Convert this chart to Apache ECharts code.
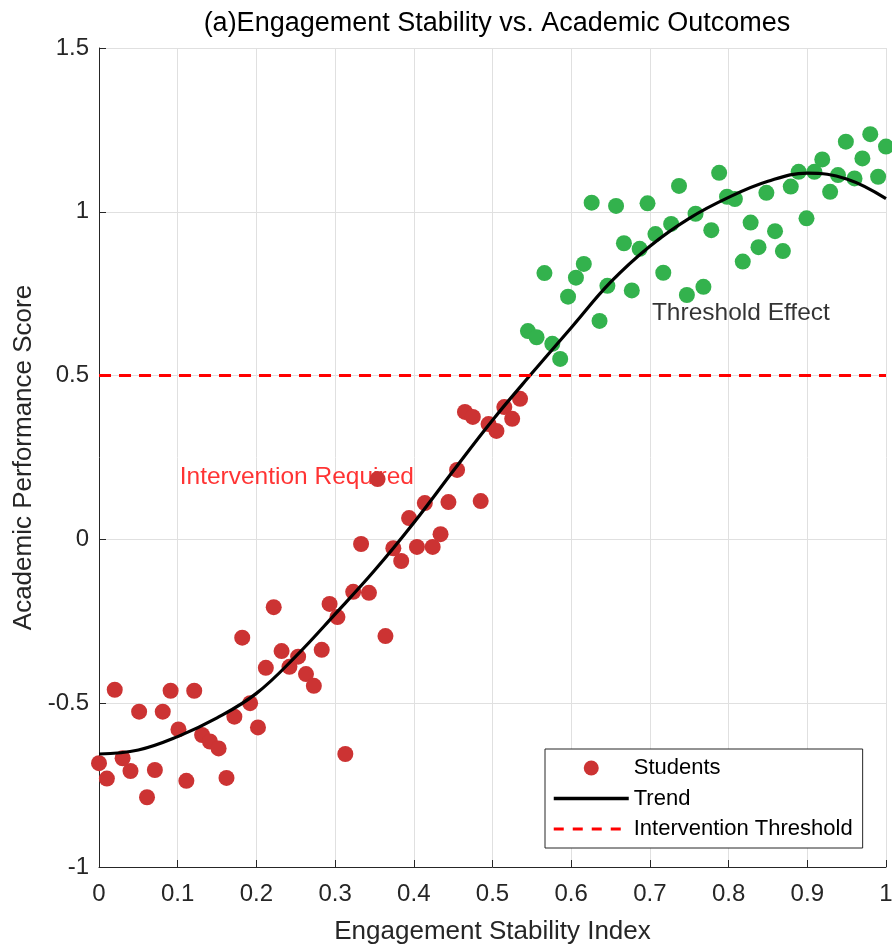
<!DOCTYPE html>
<html>
<head>
<meta charset="utf-8">
<script src="https://cdn.jsdelivr.net/npm/echarts@6/dist/echarts.min.js"></script>
<style>html,body{margin:0;padding:0;background:#fff}#chart{width:892px;height:944px}</style>
</head>
<body>
<div id="chart"></div>
<script>
// Engagement stability index (x) for each student
const studentX = [0.000,0.010,0.020,0.030,0.040,0.051,0.061,0.071,0.081,0.091,
0.101,0.111,0.121,0.131,0.141,0.152,0.162,0.172,0.182,0.192,
0.202,0.212,0.222,0.232,0.242,0.253,0.263,0.273,0.283,0.293,
0.303,0.313,0.323,0.333,0.343,0.354,0.364,0.374,0.384,0.394,
0.404,0.414,0.424,0.434,0.444,0.455,0.465,0.475,0.485,0.495,
0.505,0.515,0.525,0.535,0.545,0.556,0.566,0.576,0.586,0.596,
0.606,0.616,0.626,0.636,0.646,0.657,0.667,0.677,0.687,0.697,
0.707,0.717,0.727,0.737,0.747,0.758,0.768,0.778,0.788,0.798,
0.808,0.818,0.828,0.838,0.848,0.859,0.869,0.879,0.889,0.899,
0.909,0.919,0.929,0.939,0.949,0.960,0.970,0.980,0.990,1.000];
// Academic performance score for each student
const studentY = [-0.683,-0.730,-0.459,-0.668,-0.707,-0.526,-0.787,-0.704,-0.526,-0.462,
-0.580,-0.737,-0.462,-0.597,-0.617,-0.638,-0.728,-0.541,-0.300,-0.500,
-0.574,-0.392,-0.207,-0.341,-0.389,-0.358,-0.411,-0.447,-0.337,-0.197,
-0.237,-0.655,-0.160,-0.014,-0.163,0.184,-0.295,-0.027,-0.066,0.065,
-0.023,0.111,-0.023,0.016,0.114,0.212,0.389,0.374,0.117,0.352,
0.331,0.404,0.368,0.429,0.636,0.617,0.813,0.597,0.551,0.741,
0.799,0.841,1.028,0.667,0.774,1.018,0.904,0.760,0.887,1.026,
0.932,0.814,0.963,1.079,0.746,0.994,0.771,0.944,1.119,1.046,
1.039,0.848,0.967,0.892,1.058,0.941,0.880,1.077,1.122,0.980,
1.122,1.160,1.061,1.112,1.214,1.102,1.163,1.237,1.107,1.199];
// Trend curve
const trendX = [0,0.05,0.1,0.15,0.2,0.25,0.3,0.35,0.4,0.45,0.5,0.55,0.6,0.65,0.7,0.75,0.8,0.85,0.9,0.95,1.0];
const trendY = [-0.655,-0.643,-0.602,-0.545,-0.470,-0.357,-0.228,-0.095,0.051,0.209,0.364,0.507,0.646,0.785,0.895,0.980,1.044,1.093,1.118,1.100,1.040];
// Intervention threshold
const thresholdValue = 0.5;
const xTicks = [0,0.1,0.2,0.3,0.4,0.5,0.6,0.7,0.8,0.9,1];
const yTicks = [-1,-0.5,0,0.5,1,1.5];
const annotations = [
  {text:'Intervention Required', x:0.1, y:0.2, color:'#ff0000'},
  {text:'Threshold Effect', x:0.7, y:0.7, color:'#000000'}
];

const FONT = "'Liberation Sans', Arial, Helvetica, sans-serif";
const RED = '#cc3333', GREEN = '#33b24d';

const scatterData = studentX.map((x, i) => {
  const y = studentY[i];
  return y >= thresholdValue ? {value:[x, y], itemStyle:{color:GREEN}} : {value:[x, y]};
});
const trendData = trendX.map((x, i) => [x, trendY[i]]);
const threshData = [[xTicks[0], thresholdValue], [xTicks[xTicks.length-1], thresholdValue]];

const chart = echarts.init(document.getElementById('chart'), null, {renderer:'canvas'});
chart.setOption({
  backgroundColor:'#ffffff',
  animation:false,
  title:{
    text:'(a)Engagement Stability vs. Academic Outcomes',
    left:492, top:5, textAlign:'center',
    textStyle:{fontFamily:FONT, fontSize:27, fontWeight:'normal', color:'#000'}
  },
  grid:{left:99, right:6, top:48, bottom:77, containLabel:false, outerBoundsMode:'none'},
  legend:{
    data:[
      {name:'Students'},
      {name:'Trend', itemStyle:{opacity:0}, lineStyle:{width:3.5, color:'#000'}},
      {name:'Intervention Threshold', itemStyle:{opacity:0}, lineStyle:{width:3, color:'#ff0000', type:[10,9]}}
    ],
    orient:'vertical',
    left:545, top:749,
    padding:[8,10,8,7],
    itemWidth:75, itemHeight:15, itemGap:8.5,
    backgroundColor:'#ffffff',
    borderColor:'#262626', borderWidth:1, borderRadius:0,
    textStyle:{fontFamily:FONT, fontSize:22, color:'#000', lineHeight:22}
  },
  xAxis:{
    type:'value', min:xTicks[0], max:xTicks[xTicks.length-1], interval:0.1,
    name:'Engagement Stability Index', nameLocation:'middle', nameGap:52,
    nameTextStyle:{fontFamily:FONT, fontSize:26, color:'#262626'},
    axisLine:{show:true, onZero:false, lineStyle:{color:'#262626', width:1}},
    axisTick:{show:true, inside:true, length:7, lineStyle:{color:'#262626', width:1}},
    axisLabel:{fontFamily:FONT, fontSize:24, color:'#262626', margin:15},
    splitLine:{show:true, lineStyle:{color:'#e0e0e0', width:1}}
  },
  yAxis:{
    type:'value', min:yTicks[0], max:yTicks[yTicks.length-1], interval:0.5,
    name:'Academic Performance Score', nameLocation:'middle', nameGap:60, nameRotate:90,
    nameTextStyle:{fontFamily:FONT, fontSize:26, color:'#262626'},
    axisLine:{show:true, onZero:false, lineStyle:{color:'#262626', width:1}},
    axisTick:{show:true, inside:true, length:7, lineStyle:{color:'#262626', width:1}},
    axisLabel:{fontFamily:FONT, fontSize:24, color:'#262626', margin:10},
    splitLine:{show:true, lineStyle:{color:'#e0e0e0', width:1}}
  },
  series:[
    {
      name:'annotations', type:'scatter', z:1, symbolSize:0, silent:true, clip:false,
      data:annotations.map(a => ({
        value:[a.x, a.y],
        label:{show:true, position:'right', distance:2, offset:[0,3], formatter:a.text,
               fontFamily:FONT, fontSize:24.5, color:a.color}
      }))
    },
    {
      name:'Students', type:'scatter', z:2, symbol:'circle', symbolSize:16, clip:false,
      itemStyle:{color:RED, opacity:1},
      data:scatterData
    },
    {
      name:'Trend', type:'line', z:3, symbol:'none', smooth:0.4, clip:false,
      lineStyle:{color:'#000000', width:3.2},
      itemStyle:{color:'#000000'},
      data:trendData
    },
    {
      name:'Intervention Threshold', type:'line', z:4, symbol:'none', clip:false,
      lineStyle:{color:'#ff0000', width:3, type:[12,8]},
      itemStyle:{color:'#ff0000'},
      data:threshData
    }
  ]
});
</script>
</body>
</html>
